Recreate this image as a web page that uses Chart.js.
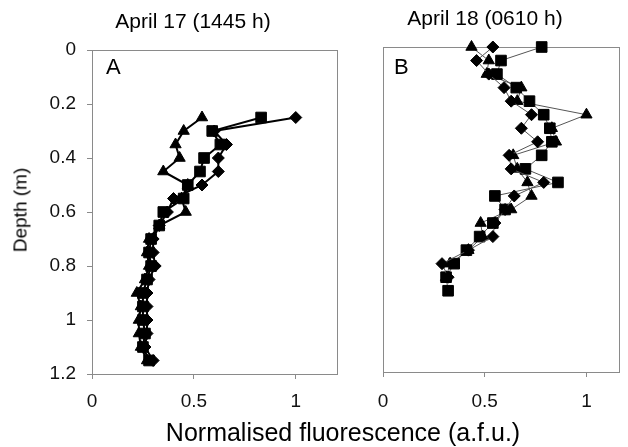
<!DOCTYPE html>
<html>
<head>
<meta charset="utf-8">
<script src="https://cdn.jsdelivr.net/npm/chart.js@4"></script>
<style>
  body { margin: 0; background: #fff; }
  #wrap { position: relative; width: 628px; height: 447px; overflow: hidden; font-family: "Liberation Sans", Arial, sans-serif; color: #000; }
  canvas { position: absolute; top: 0; }
  .txt { position: absolute; white-space: nowrap; line-height: 1; }
</style>
</head>
<body>
<div id="wrap">
  <canvas id="chartA" width="345" height="420" style="left:0"></canvas>
  <canvas id="chartB" width="283" height="420" style="left:345px"></canvas>
  <div class="txt" style="left:193px; top:10px; font-size:21px; transform:translateX(-50%)">April 17 (1445 h)</div>
  <div class="txt" style="left:485px; top:7px; font-size:21px; transform:translateX(-50%)">April 18 (0610 h)</div>
  <div class="txt" style="left:106px; top:56px; font-size:22px">A</div>
  <div class="txt" style="left:394px; top:56px; font-size:22px">B</div>
  <div class="txt" style="left:20px; top:210px; font-size:19px; transform:translate(-50%,-50%) rotate(-90deg)">Depth (m)</div>
  <div class="txt" style="left:343px; top:420px; font-size:25px; transform:translateX(-50%)">Normalised fluorescence (a.f.u.)</div>
</div>
<script>
// depth samples (m)
const depthA = [0.25, 0.30, 0.35, 0.40, 0.45, 0.50, 0.55, 0.60, 0.65, 0.70,
  0.75, 0.80, 0.85, 0.90, 0.95, 1.00, 1.05, 1.10, 1.15];
const depthB = [0, 0.05, 0.10, 0.15, 0.20, 0.25, 0.30, 0.35, 0.40, 0.45,
  0.50, 0.55, 0.60, 0.65, 0.70, 0.75, 0.80, 0.85];
const depthBsquare = depthB.concat([0.90]);

// panel A - April 17 (1445 h)
const diamondA = [1.00, 0.60, 0.66, 0.62, 0.62, 0.54, 0.40, 0.37, 0.33, 0.30,
  0.30, 0.31, 0.28, 0.27, 0.27, 0.27, 0.27, 0.26, 0.30];
const squareA = [0.83, 0.59, 0.63, 0.55, 0.53, 0.47, 0.45, 0.35, 0.33, 0.29,
  0.28, 0.29, 0.27, 0.25, 0.25, 0.25, 0.26, 0.25, 0.28];
const triangleA = [0.54, 0.45, 0.41, 0.43, 0.35, 0.47, 0.44, 0.46, 0.33, 0.28,
  0.27, 0.28, 0.26, 0.22, 0.24, 0.23, 0.23, 0.24, 0.27];

// panel B - April 18 (0610 h)
const diamondB = [0.54, 0.46, 0.52, 0.595, 0.63, 0.73, 0.68, 0.76, 0.62, 0.63,
  0.79, 0.645, 0.60, 0.55, 0.54, 0.42, 0.29, 0.32];
const squareB = [0.78, 0.58, 0.56, 0.655, 0.72, 0.79, 0.82, 0.83, 0.78, 0.70,
  0.86, 0.55, 0.60, 0.54, 0.475, 0.41, 0.35, 0.31, 0.32];
const triangleB = [0.435, 0.52, 0.51, 0.68, 0.66, 1.00, 0.83, 0.85, 0.64, 0.66,
  0.71, 0.73, 0.63, 0.48, 0.49, 0.42, 0.33, 0.31];

const depthTicks = [0, 0.2, 0.4, 0.6, 0.8, 1, 1.2];
const fluorTicks = [0, 0.5, 1];

// pair up values with depths for the scatter datasets
function toPoints(values, depths) {
  return values.map((v, i) => ({ x: v, y: depths[i] }));
}

function makeSet(values, depths, style, radius, lineColor, lineWidth) {
  return {
    data: toPoints(values, depths),
    showLine: true,
    borderColor: lineColor,
    borderWidth: lineWidth,
    pointStyle: style,
    pointRadius: radius,
    pointBackgroundColor: "#000",
    pointBorderColor: "#000",
    pointBorderWidth: 1,
    clip: false,
  };
}

// gray frame round the plot area
const frame = {
  id: "frame",
  beforeDatasetsDraw(chart) {
    const a = chart.chartArea;
    const ctx = chart.ctx;
    ctx.save();
    ctx.strokeStyle = "#8a8a8a";
    ctx.lineWidth = 1;
    ctx.strokeRect(Math.round(a.left) + 0.5, Math.round(a.top) + 0.5,
      Math.round(a.right - a.left), Math.round(a.bottom - a.top));
    ctx.restore();
  },
};

const tickFont = { family: "Liberation Sans, Arial, sans-serif", size: 19 };

function xScale(max, height, pad) {
  return {
    type: "linear",
    min: 0,
    max: max,
    afterBuildTicks: (s) => { s.ticks = fluorTicks.map((v) => ({ value: v })); },
    afterFit: (s) => { s.height = height; },
    ticks: { font: tickFont, color: "#111", padding: pad, maxRotation: 0, callback: (v) => String(v) },
    grid: { drawOnChartArea: false, tickLength: 5, color: "#8a8a8a" },
    border: { color: "#8a8a8a" },
  };
}

// chart A with depth axis
new Chart(document.getElementById("chartA"), {
  type: "scatter",
  data: {
    datasets: [
      makeSet(diamondA, depthA, "rectRot", 6, "#000", 2),
      makeSet(squareA, depthA, "rect", 7.5, "#000", 2),
      makeSet(triangleA, depthA, "triangle", 6.5, "#000", 2),
    ],
  },
  options: {
    responsive: false,
    animation: false,
    layout: { padding: { top: 50, right: 8, left: 0, bottom: 0 } },
    plugins: { legend: { display: false }, tooltip: { enabled: false } },
    scales: {
      x: xScale(1.2, 46, 11),
      y: {
        type: "linear",
        reverse: true,
        min: 0,
        max: 1.2,
        afterBuildTicks: (s) => { s.ticks = depthTicks.map((v) => ({ value: v })); },
        afterFit: (s) => { s.width = 92; },
        ticks: { font: tickFont, color: "#111", padding: 11, callback: (v) => String(v) },
        grid: { drawOnChartArea: false, tickLength: 5, color: "#8a8a8a" },
        border: { color: "#8a8a8a" },
      },
    },
  },
  plugins: [frame],
});

// chart B, shares the depth axis of A
new Chart(document.getElementById("chartB"), {
  type: "scatter",
  data: {
    datasets: [
      makeSet(diamondB, depthB, "rectRot", 6, "#555", 1),
      makeSet(squareB, depthBsquare, "rect", 7.5, "#555", 1),
      makeSet(triangleB, depthB, "triangle", 6.5, "#555", 1),
    ],
  },
  options: {
    responsive: false,
    animation: false,
    layout: { padding: { top: 47, right: 9, left: 38, bottom: 0 } },
    plugins: { legend: { display: false }, tooltip: { enabled: false } },
    scales: {
      x: xScale(1.16, 48, 13),
      y: { type: "linear", reverse: true, min: 0, max: 1.2, display: false },
    },
  },
  plugins: [frame],
});
</script>
</body>
</html>
